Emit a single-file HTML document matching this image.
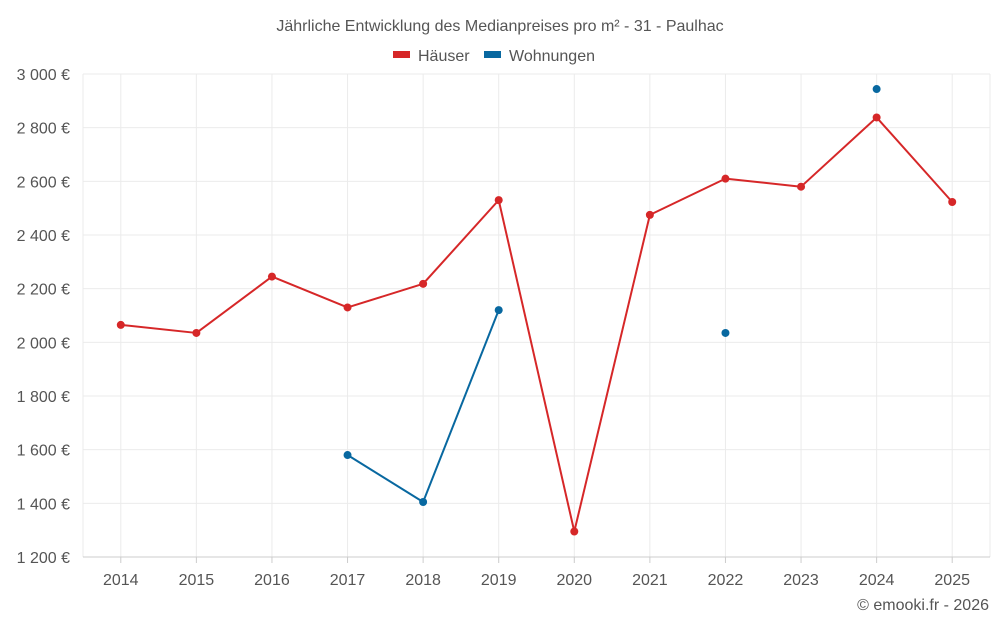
<!DOCTYPE html>
<html><head><meta charset="utf-8">
<style>
body{margin:0;background:#fff;font-family:"Liberation Sans",sans-serif;}
svg text{font-family:"Liberation Sans",sans-serif;fill:#555;}
</style></head>
<body>
<svg id="chart" width="1000" height="625" xmlns="http://www.w3.org/2000/svg">
<text x="500" y="31" text-anchor="middle" font-size="16">Jährliche Entwicklung des Medianpreises pro m² - 31 - Paulhac</text>
<g>
<g><rect x="393" y="51" width="17" height="7" fill="#d62728"/><text x="418" y="61" font-size="16">Häuser</text></g>
<g><rect x="484" y="51" width="17" height="7" fill="#0868a0"/><text x="509" y="61" font-size="16">Wohnungen</text></g>
</g>
<g id="grid"></g><g id="axes"></g><g id="series"></g>
<text x="989" y="610" text-anchor="end" font-size="16">© emooki.fr - 2026</text>
</svg>
<script>
const years=[2014,2015,2016,2017,2018,2019,2020,2021,2022,2023,2024,2025];
const haeuser=[2065,2035,2245,2130,2218,2530,1295,2475,2610,2580,2838,2523];
const wohnungen=[null,null,null,1580,1405,2120,null,null,2035,null,2944,null];
const yTicks=[1200,1400,1600,1800,2000,2200,2400,2600,2800,3000];
const yTickLabels=["1 200 €","1 400 €","1 600 €","1 800 €","2 000 €","2 200 €","2 400 €","2 600 €","2 800 €","3 000 €"];
const L=83,R=990,T=74,B=557,yMin=1200,yMax=3000;
const step=(R-L)/years.length;
function xs(i){return L+step*(i+0.5);}
function ys(v){return B-(v-yMin)/(yMax-yMin)*(B-T);}
const NS="http://www.w3.org/2000/svg";
function mk(tag,attrs,parent){const e=document.createElementNS(NS,tag);for(const k in attrs)e.setAttribute(k,attrs[k]);parent.appendChild(e);return e;}
const grid=document.getElementById('grid'),axes=document.getElementById('axes'),ser=document.getElementById('series');
yTicks.forEach((t,i)=>{
 const g=mk('line',{x1:L,x2:R,y1:ys(t),y2:ys(t),stroke:'#ebebeb'},grid);
 
 
 const tx=mk('text',{x:70,y:ys(t)+6,'text-anchor':'end','font-size':'16'},axes);
 tx.textContent=yTickLabels[i];
 
 
});
[L,R].forEach(x=>{
 const g=mk('line',{x1:x,x2:x,y1:T,y2:B,stroke:'#ebebeb'},grid);
 
 
});
years.forEach((y,i)=>{
 const g=mk('line',{x1:xs(i),x2:xs(i),y1:T,y2:B,stroke:'#ebebeb'},grid);
 
 
 const tx=mk('text',{x:xs(i),y:585,'text-anchor':'middle','font-size':'16'},axes);
 tx.textContent=y;
 
 
 const tk=mk('line',{x1:xs(i),x2:xs(i),y1:B,y2:B+6,stroke:'#ccc'},axes);
 
 
});
const ax=mk('line',{x1:L,x2:R,y1:B,y2:B,stroke:'#ccc'},axes);


function draw(vals,color,name){
 for(let i=0;i<vals.length-1;i++){
  if(vals[i]!=null&&vals[i+1]!=null){
   const l=mk('line',{x1:xs(i),y1:ys(vals[i]),x2:xs(i+1),y2:ys(vals[i+1]),stroke:color,'stroke-width':2},ser);
   
   
  }
 }
 vals.forEach((v,i)=>{
  if(v==null)return;
  const c=mk('circle',{cx:xs(i),cy:ys(v),r:4,fill:color},ser);
  
  
 });
}
draw(haeuser,'#d62728','haeuser');
draw(wohnungen,'#0868a0','wohnungen');
</script>
</body></html>
